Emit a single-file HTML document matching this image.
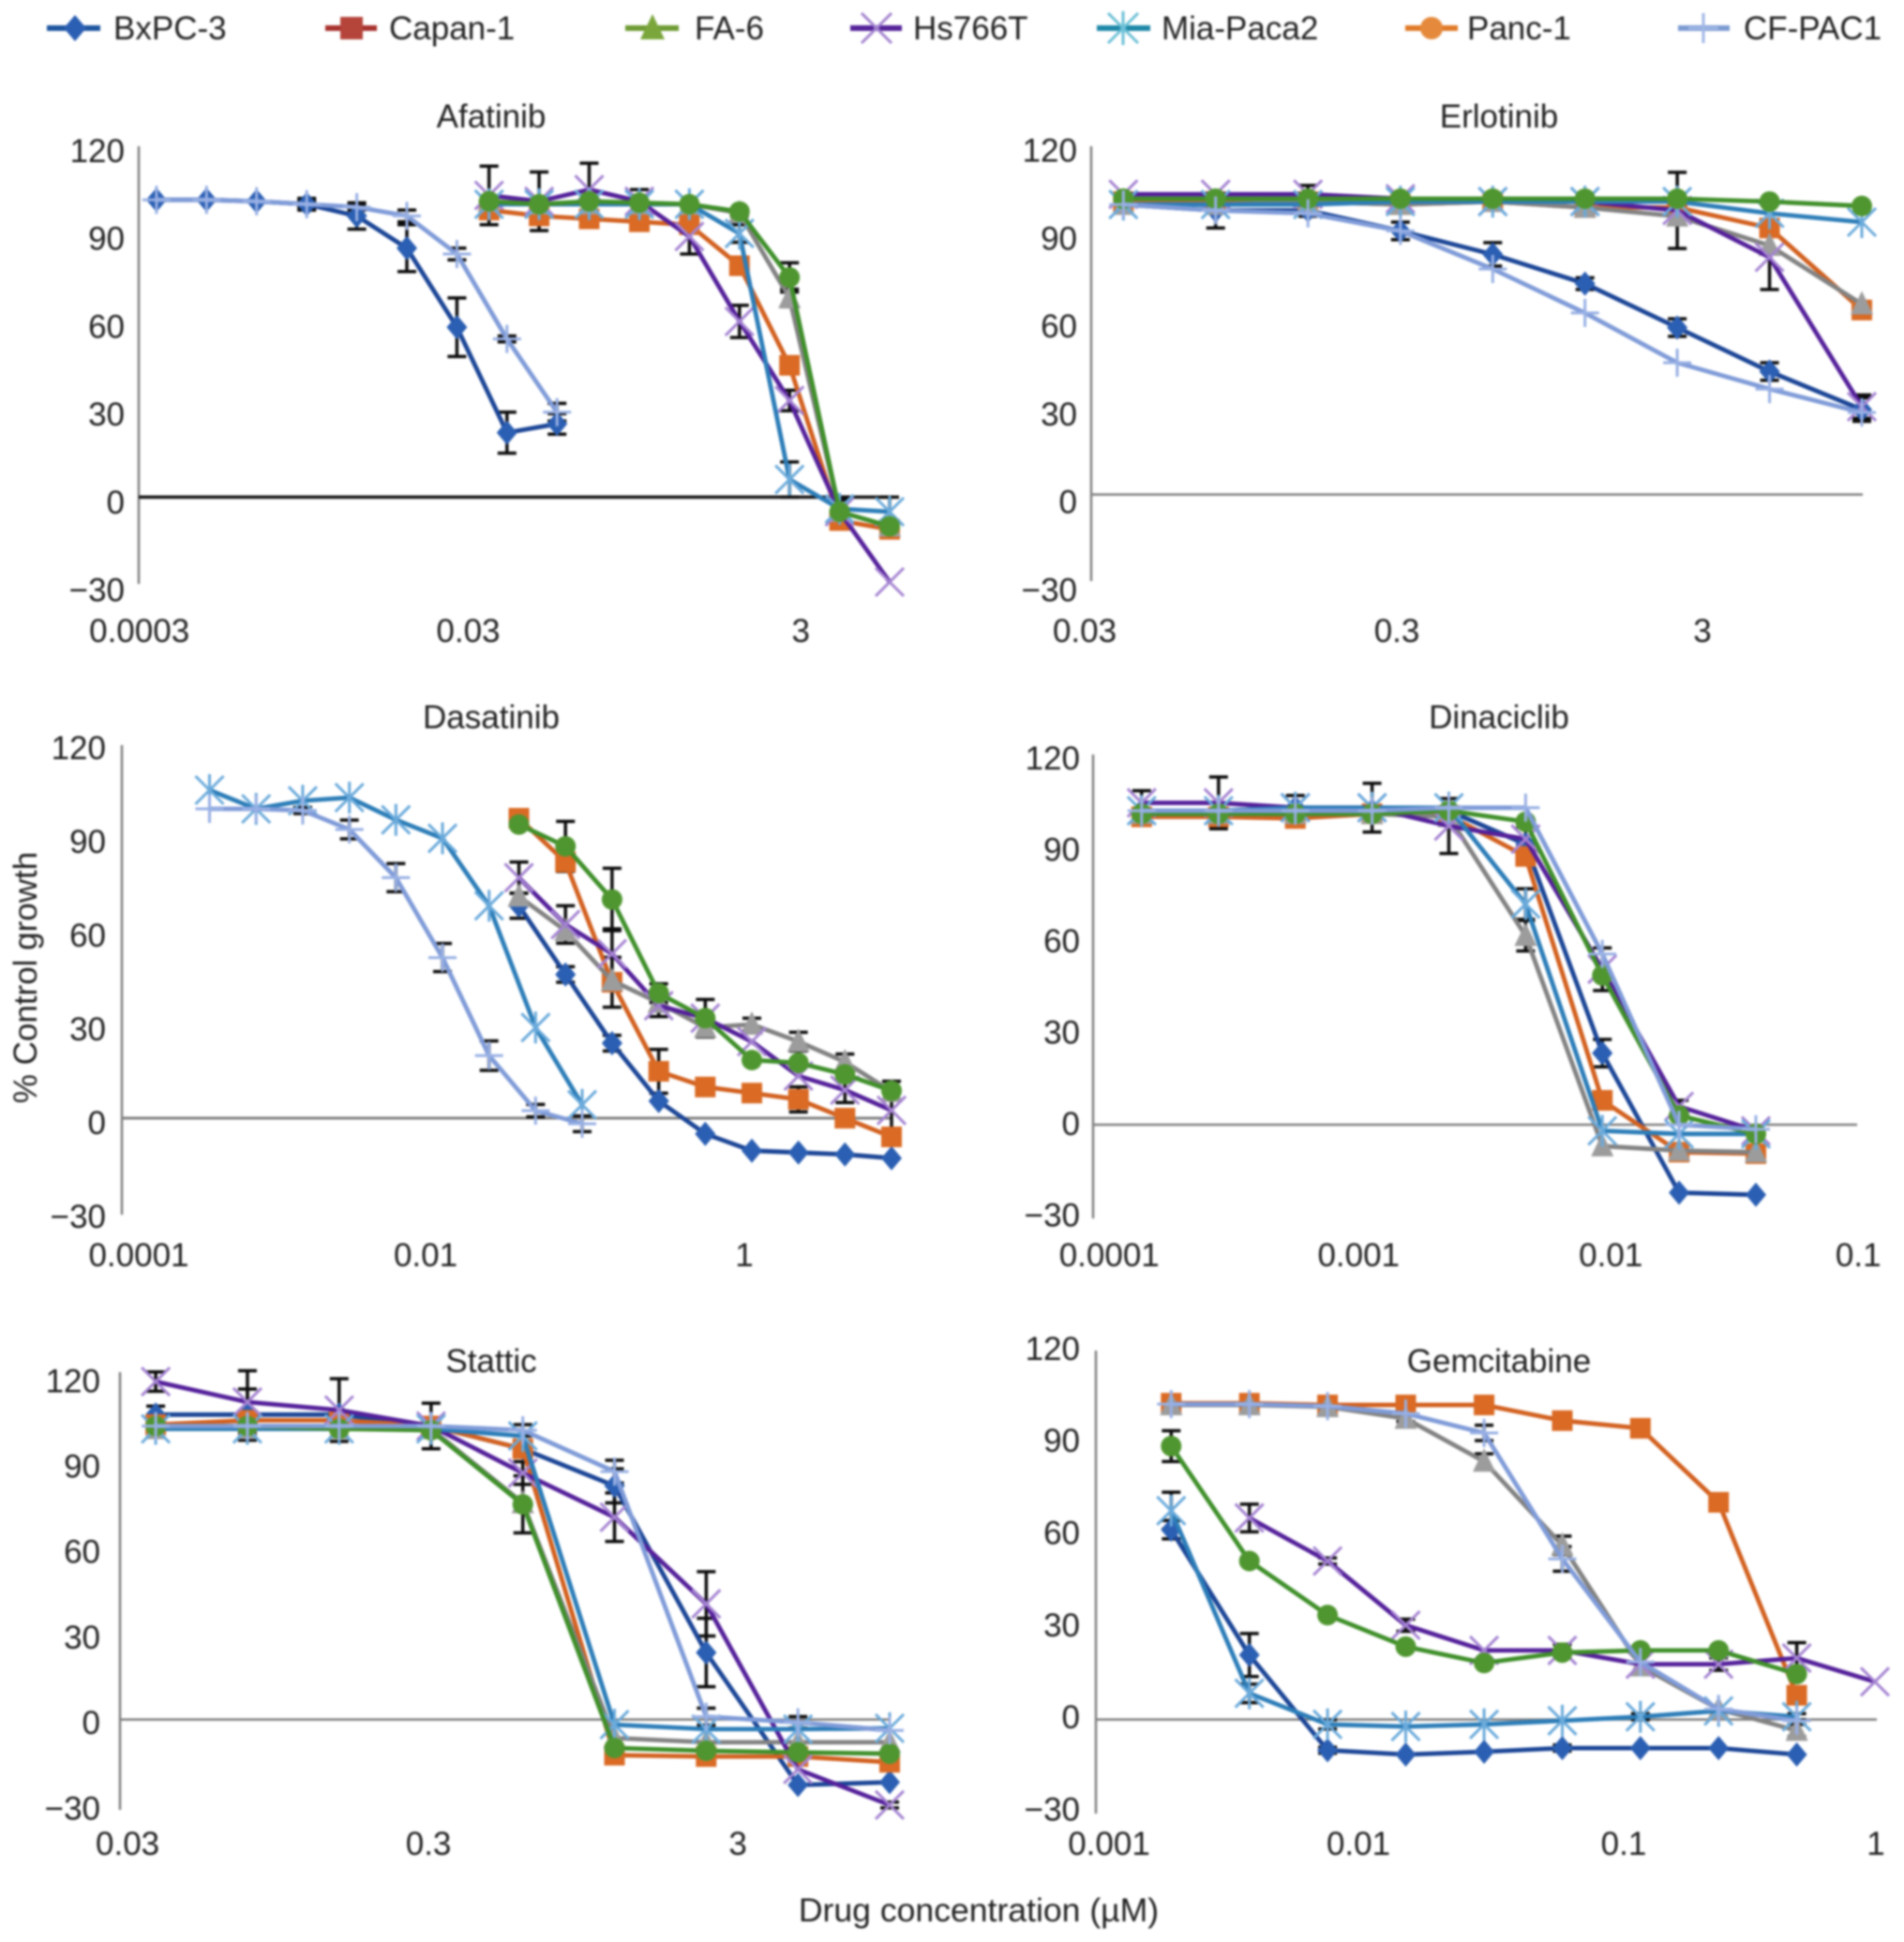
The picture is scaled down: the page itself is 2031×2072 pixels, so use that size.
<!DOCTYPE html>
<html lang="en">
<head>
<meta charset="utf-8">
<title>Drug response curves</title>
<style>
html,body{margin:0;padding:0;background:#fff;}
svg{display:block;filter:blur(0.95px);}
text{font-family:"Liberation Sans",sans-serif;font-size:35px;fill:#222222;}
</style>
</head>
<body>
<svg id="chart" xmlns="http://www.w3.org/2000/svg" width="2031" height="2072" viewBox="0 0 2031 2072">
  <rect x="0" y="0" width="2031" height="2072" fill="#ffffff"/>

  <g>
    <g id="leg0"><line x1="50" y1="30" x2="107" y2="30" stroke="#1f56a0" stroke-width="6"/><text x="121" y="42">BxPC-3</text></g>
    <g id="leg1"><line x1="347" y1="30" x2="402" y2="30" stroke="#a8322e" stroke-width="6"/><text x="415" y="42">Capan-1</text></g>
    <g id="leg2"><line x1="667" y1="30" x2="724" y2="30" stroke="#6f9c35" stroke-width="6"/><text x="741" y="42">FA-6</text></g>
    <g id="leg3"><line x1="907" y1="30" x2="962" y2="30" stroke="#55249a" stroke-width="6"/><text x="974" y="42">Hs766T</text></g>
    <g id="leg4"><line x1="1170" y1="30" x2="1227" y2="30" stroke="#1f88a8" stroke-width="6"/><text x="1239" y="42">Mia-Paca2</text></g>
    <g id="leg5"><line x1="1499" y1="30" x2="1555" y2="30" stroke="#e07a28" stroke-width="6"/><text x="1565" y="42">Panc-1</text></g>
    <g id="leg6"><line x1="1790" y1="30" x2="1845" y2="30" stroke="#7c9bd2" stroke-width="6"/><text x="1860" y="42">CF-PAC1</text></g>
  </g>

  <text x="524" y="136" text-anchor="middle">Afatinib</text>
  <text x="1599" y="136" text-anchor="middle">Erlotinib</text>
  <text x="524" y="777" text-anchor="middle">Dasatinib</text>
  <text x="1599" y="777" text-anchor="middle">Dinaciclib</text>
  <text x="524" y="1464" text-anchor="middle">Stattic</text>
  <text x="1599" y="1464" text-anchor="middle">Gemcitabine</text>

  <text x="0" y="0" text-anchor="middle" transform="translate(39,1043) rotate(-90)">% Control growth</text>
  <text x="1044" y="2050" text-anchor="middle" style="font-size:35.6px">Drug concentration (µM)</text>

  <g id="panels"></g>
</svg>

<script>
/* ---------- shared tick arrays ---------- */
const yTickValues = [120, 90, 60, 30, 0, -30];

/* ---------- concentrations (uM) ---------- */
const concTop10 = [0.039, 0.078, 0.156, 0.3125, 0.625, 1.25, 2.5, 5, 10];
const concTop01 = [0.00039, 0.00078, 0.00156, 0.003125, 0.00625, 0.0125, 0.025, 0.05, 0.1];
const concTop004 = [0.000156, 0.0003125, 0.000625, 0.00125, 0.0025, 0.005, 0.01, 0.02, 0.04];
const concGemLow = [0.00195, 0.0039, 0.0078, 0.0156, 0.03125, 0.0625, 0.125, 0.25, 0.5];
const concGemHigh = [0.0039, 0.0078, 0.0156, 0.03125, 0.0625, 0.125, 0.25, 0.5, 1];

/* ---------- Afatinib ---------- */
const afatinibTicks = [0.0003, 0.03, 3];
const afatinibTickLabels = ["0.0003", "0.03", "3"];
const afatinibBxpc3 = [101.5, 101.5, 101, 100, 96, 85, 58, 22, 25];
const afatinibBxpc3Err = [0, 0, 0, 2, 4.5, 8, 10, 7, 3.5];
const afatinibCapan1 = [98, 96, 95, 94, 93, 79, 45, -8, -11];
const afatinibCapan1Err = [2, 2, 1, 1, 1, 1, 1, 0, 0];
const afatinibFa6 = [101, 100, 100, 100, 100, 97, 68, -5, -10];
const afatinibFa6Err = [0, 0, 0, 0, 0, 1, 3, 0, 0];
const afatinibHs766t = [103, 101, 105, 101, 89, 60, 33, -5, -29];
const afatinibHs766tErr = [10, 10, 9, 4, 6, 5.5, 3.5, 5, 0];
const afatinibMia = [100, 100, 100, 100, 100, 90, 6, -4, -5];
const afatinibMiaErr = [0, 0, 0, 0, 0, 3, 6, 3, 5];
const afatinibPanc1 = [101, 100, 101, 100.5, 100, 97.5, 75, -5, -10];
const afatinibPanc1Err = [0, 0, 0, 0, 0, 1, 5, 0, 0];
const afatinibCf = [101.5, 101.5, 101, 100, 99, 96, 83, 54, 29];
const afatinibCfErr = [0, 0, 0, 1, 1, 2, 2, 1, 3];

/* ---------- Erlotinib ---------- */
const erlotinibTicks = [0.03, 0.3, 3];
const erlotinibTickLabels = ["0.03", "0.3", "3"];
const erlotinibBxpc3 = [99, 97, 97, 90, 82, 72, 57, 42, 29];
const erlotinibBxpc3Err = [0, 6, 2, 3, 4, 2, 3, 3, 4];
const erlotinibCapan1 = [100, 100, 100, 99, 100, 98, 98, 91, 63];
const erlotinibFa6 = [99, 99, 100, 99, 100, 98, 95, 85, 65];
const erlotinibHs766t = [102.5, 102.5, 102.5, 101, 100, 100, 97, 81, 30];
const erlotinibHs766tErr = [0, 0, 3, 0, 0, 0, 13, 11, 4];
const erlotinibMia = [99, 99, 99, 100, 100, 100, 100, 96, 93];
const erlotinibPanc1 = [101, 101, 101, 101, 101, 101, 101, 100, 98.5];
const erlotinibCf = [99, 97, 96, 90, 77, 62, 45, 36, 28];

/* ---------- Dasatinib ---------- */
const dasatinibTicks = [0.0001, 0.01, 1];
const dasatinibTickLabels = ["0.0001", "0.01", "1"];
const dasatinibBxpc3 = [68, 46, 24, 5.5, -5, -10.4, -11, -11.6, -12.8];
const dasatinibBxpc3Err = [4, 2.5, 2.5, 0, 0, 0, 0, 0, 0];
const dasatinibCapan1 = [96, 82, 43.5, 15, 10, 8, 6, 0, -6];
const dasatinibCapan1Err = [0, 0, 8, 7, 0, 0, 4, 0, 0];
const dasatinibFa6 = [71, 60, 44, 37, 29, 30, 24.5, 18, 8.5];
const dasatinibFa6Err = [0, 0, 0, 0, 0, 2, 3, 2.5, 0];
const dasatinibHs766t = [77, 62, 52.6, 36, 32, 24.5, 13.5, 9, 2.5];
const dasatinibHs766tErr = [5, 6, 8, 3.5, 6, 0, 0, 4, 6];
const dasatinibMia = [105, 99, 101.6, 102.6, 95.5, 89.6, 68, 29, 4.3];
const dasatinibPanc1 = [94, 87, 70, 40, 32, 18.6, 17.7, 14, 8.8];
const dasatinibPanc1Err = [0, 8, 10, 3, 0, 0, 0, 0, 3];
const dasatinibCf = [99, 99, 98.5, 92.4, 77, 51.4, 20, 2.4, -1.8];
const dasatinibCfErr = [0, 0, 1, 3, 4.5, 4.5, 4.7, 2, 2.5];

/* ---------- Dinaciclib ---------- */
const dinaciclibTicks = [0.0001, 0.001, 0.01, 0.1];
const dinaciclibTickLabels = ["0.0001", "0.001", "0.01", "0.1"];
const dinaciclibBxpc3 = [103, 103, 104, 103, 103, 92, 23.5, -22.3, -23];
const dinaciclibBxpc3Err = [0, 0, 0, 0, 0, 0, 4.5, 0, 0];
const dinaciclibCapan1 = [101, 101, 100.5, 102, 101.5, 88, 8, -9, -9.5];
const dinaciclibFa6 = [102, 102, 102, 102, 101, 62, -7, -8.5, -9];
const dinaciclibFa6Err = [0, 0, 0, 0, 0, 5, 0, 0, 0];
const dinaciclibHs766t = [105.6, 105.6, 104, 104, 98, 93.7, 51, 6, -2];
const dinaciclibHs766tErr = [4, 8.5, 4, 8, 9, 4, 7, 2, 0];
const dinaciclibMia = [103, 103, 104, 104, 104, 72.4, -2, -3, -3];
const dinaciclibMiaErr = [0, 0, 0, 0, 0, 5, 0, 0, 0];
const dinaciclibPanc1 = [102, 102, 102, 102, 103, 99.4, 49, 3, -3];
const dinaciclibCf = [103, 103, 103, 103, 104, 104, 56, 0, -1.5];

/* ---------- Stattic ---------- */
const statticTicks = [0.03, 0.3, 3];
const statticTickLabels = ["0.03", "0.3", "3"];
const statticBxpc3 = [107, 107, 107, 103, 95, 82, 23.5, -23, -22];
const statticBxpc3Err = [3, 9, 0, 0, 0, 6, 12, 0, 0];
const statticCapan1 = [103.5, 105, 105, 103, 95, -12.5, -13, -13, -15];
const statticFa6 = [102, 102, 102, 102, 76, -6.5, -8, -8, -8];
const statticHs766t = [118.6, 111.4, 108.6, 103, 86.5, 71, 40.6, -17.5, -30];
const statticHs766tErr = [3.4, 11, 11, 8, 4, 8.5, 11.3, 0, 1];
const statticMia = [102, 102, 102, 102, 99.5, -1.8, -3.4, -3.4, -3.1];
const statticPanc1 = [103, 103, 102, 101.5, 75.5, -10, -11, -11.5, -12];
const statticPanc1Err = [0, 0, 0, 0, 10, 0, 0, 0, 0];
const statticCf = [103, 103, 103, 103, 101.5, 87, 1, -1, -3.8];
const statticCfErr = [0, 0, 0, 0, 2, 4, 3, 2, 0];

/* ---------- Gemcitabine ---------- */
const gemcitabineTicks = [0.001, 0.01, 0.1, 1];
const gemcitabineTickLabels = ["0.001", "0.01", "0.1", "1"];
const gemcitabineBxpc3 = [61.8, 21, -10, -11.4, -10.5, -9.3, -9.3, -9.3, -11.4];
const gemcitabineBxpc3Err = [3, 7, 1, 0, 0, 1, 0, 0, 0];
const gemcitabineCapan1 = [103, 103, 102.4, 102.4, 102.4, 97.3, 94.8, 70.7, 7.9];
const gemcitabineFa6 = [102.4, 102.4, 101.8, 98, 84, 56.7, 17.4, 3.4, -3.6];
const gemcitabineFa6Err = [0, 0, 0, 1, 2.5, 3, 0, 0, 2];
const gemcitabineHs766t = [65.6, 51.6, 30.7, 22.5, 22.5, 18, 18, 20, 12.3];
const gemcitabineHs766tErr = [4.5, 1, 2, 0, 2, 0, 2, 5, 0];
const gemcitabineMia = [68, 8.5, -1.6, -2.3, -1.6, -0.4, 0.9, 2.8, 0.9];
const gemcitabineMiaErr = [6, 3, 1.5, 0, 0, 0, 1, 0, 1];
const gemcitabinePanc1 = [89, 51.6, 34, 23.7, 18.4, 21.8, 22.5, 22.5, 14.8];
const gemcitabinePanc1Err = [5, 1, 0, 0, 0, 0, 0, 0, 0];
const gemcitabineCf = [102.7, 102.7, 102, 99.6, 93.3, 52.3, 18.7, 3.4, -0.4];
const gemcitabineCfErr = [0, 0, 0, 0, 2.5, 4, 0, 0, 0];

/* ---------- series styles ---------- */
const styles = {
  bxpc3: {label: "bxpc3", shape: "diamond", line: "#1b4596", mark: "#2b5fb3"},
  capan1: {label: "capan1", shape: "square", line: "#d2601f", mark: "#da6a24"},
  fa6: {label: "fa6", shape: "triangle", line: "#828282", mark: "#9c9c9c"},
  hs766t: {label: "hs766t", shape: "cross", line: "#54209a", mark: "#a584d2"},
  mia: {label: "mia-paca2", shape: "star", line: "#2c7db8", mark: "#6aaadb"},
  panc1: {label: "panc1", shape: "circle", line: "#3f8f2a", mark: "#4f9630"},
  cf: {label: "cf-pac1", shape: "plus", line: "#7f9bd8", mark: "#98b0e4"}
};

const panels = [
  {id: "afatinib", axisX: 148, axisTop: 156, axisBottom: 623, y0: 530.4, unit: 3.125, anchorConc: 10, anchorX: 949, decade: 177.4,
   zeroEnd: 953, zeroColor: "#111111", zeroWidth: 3.5, yLabelRight: 133, yLabelDy: 17.4, xLabelY: 685,
   ticks: afatinibTicks, tickLabels: afatinibTickLabels, tickNudge: [2, -2, -2],
   series: [
    {s: styles.bxpc3, x: concTop01, y: afatinibBxpc3, e: afatinibBxpc3Err},
    {s: styles.capan1, x: concTop10, y: afatinibCapan1, e: afatinibCapan1Err},
    {s: styles.fa6, x: concTop10, y: afatinibFa6, e: afatinibFa6Err},
    {s: styles.hs766t, x: concTop10, y: afatinibHs766t, e: afatinibHs766tErr},
    {s: styles.mia, x: concTop10, y: afatinibMia, e: afatinibMiaErr},
    {s: styles.panc1, x: concTop10, y: afatinibPanc1, e: afatinibPanc1Err},
    {s: styles.cf, x: concTop01, y: afatinibCf, e: afatinibCfErr}
   ]},
  {id: "erlotinib", axisX: 1164, axisTop: 156, axisBottom: 620, y0: 527.6, unit: 3.125, anchorConc: 10, anchorX: 1986, decade: 327,
   zeroEnd: 1987, zeroColor: "#808080", zeroWidth: 2.5, yLabelRight: 1149, yLabelDy: 20, xLabelY: 685,
   ticks: erlotinibTicks, tickLabels: erlotinibTickLabels, tickNudge: [-4, 2, 1],
   series: [
    {s: styles.bxpc3, x: concTop10, y: erlotinibBxpc3, e: erlotinibBxpc3Err},
    {s: styles.capan1, x: concTop10, y: erlotinibCapan1},
    {s: styles.fa6, x: concTop10, y: erlotinibFa6},
    {s: styles.hs766t, x: concTop10, y: erlotinibHs766t, e: erlotinibHs766tErr},
    {s: styles.mia, x: concTop10, y: erlotinibMia},
    {s: styles.panc1, x: concTop10, y: erlotinibPanc1},
    {s: styles.cf, x: concTop10, y: erlotinibCf}
   ]},
  {id: "dasatinib", axisX: 130, axisTop: 795, axisBottom: 1296, y0: 1193, unit: 3.333, anchorConc: 10, anchorX: 951, decade: 165,
   zeroEnd: 951, zeroColor: "#808080", zeroWidth: 3, yLabelRight: 113, yLabelDy: 17, xLabelY: 1351,
   ticks: dasatinibTicks, tickLabels: dasatinibTickLabels, tickNudge: [22, -2, 8],
   series: [
    {s: styles.bxpc3, x: concTop10, y: dasatinibBxpc3, e: dasatinibBxpc3Err},
    {s: styles.capan1, x: concTop10, y: dasatinibCapan1, e: dasatinibCapan1Err},
    {s: styles.fa6, x: concTop10, y: dasatinibFa6, e: dasatinibFa6Err},
    {s: styles.hs766t, x: concTop10, y: dasatinibHs766t, e: dasatinibHs766tErr},
    {s: styles.mia, x: concTop01, y: dasatinibMia},
    {s: styles.panc1, x: concTop10, y: dasatinibPanc1, e: dasatinibPanc1Err},
    {s: styles.cf, x: concTop01, y: dasatinibCf, e: dasatinibCfErr}
   ]},
  {id: "dinaciclib", axisX: 1166, axisTop: 805, axisBottom: 1300, y0: 1200, unit: 3.252, anchorConc: 0.04, anchorX: 1873, decade: 272,
   zeroEnd: 1981, zeroColor: "#808080", zeroWidth: 2.5, yLabelRight: 1152, yLabelDy: 11, xLabelY: 1351,
   ticks: dinaciclibTicks, tickLabels: dinaciclibTickLabels, tickNudge: [18, 12, 9, 1],
   series: [
    {s: styles.bxpc3, x: concTop004, y: dinaciclibBxpc3, e: dinaciclibBxpc3Err},
    {s: styles.capan1, x: concTop004, y: dinaciclibCapan1},
    {s: styles.fa6, x: concTop004, y: dinaciclibFa6, e: dinaciclibFa6Err},
    {s: styles.hs766t, x: concTop004, y: dinaciclibHs766t, e: dinaciclibHs766tErr},
    {s: styles.mia, x: concTop004, y: dinaciclibMia, e: dinaciclibMiaErr},
    {s: styles.panc1, x: concTop004, y: dinaciclibPanc1},
    {s: styles.cf, x: concTop004, y: dinaciclibCf}
   ]},
  {id: "stattic", axisX: 128, axisTop: 1464, axisBottom: 1931, y0: 1834.6, unit: 3.04, anchorConc: 10, anchorX: 949, decade: 325,
   zeroEnd: 949, zeroColor: "#808080", zeroWidth: 2.5, yLabelRight: 107, yLabelDy: 15.5, xLabelY: 1979,
   ticks: statticTicks, tickLabels: statticTickLabels, tickNudge: [7, 3, 8],
   series: [
    {s: styles.bxpc3, x: concTop10, y: statticBxpc3, e: statticBxpc3Err},
    {s: styles.capan1, x: concTop10, y: statticCapan1},
    {s: styles.fa6, x: concTop10, y: statticFa6},
    {s: styles.hs766t, x: concTop10, y: statticHs766t, e: statticHs766tErr},
    {s: styles.mia, x: concTop10, y: statticMia},
    {s: styles.panc1, x: concTop10, y: statticPanc1, e: statticPanc1Err},
    {s: styles.cf, x: concTop10, y: statticCf, e: statticCfErr}
   ]},
  {id: "gemcitabine", axisX: 1169, axisTop: 1441, axisBottom: 1935, y0: 1834.6, unit: 3.277, anchorConc: 1, anchorX: 2000, decade: 277,
   zeroEnd: 2002, zeroColor: "#808080", zeroWidth: 2.5, yLabelRight: 1152, yLabelDy: 9.5, xLabelY: 1979,
   ticks: gemcitabineTicks, tickLabels: gemcitabineTickLabels, tickNudge: [14, 3, 9, 1],
   series: [
    {s: styles.bxpc3, x: concGemLow, y: gemcitabineBxpc3, e: gemcitabineBxpc3Err},
    {s: styles.capan1, x: concGemLow, y: gemcitabineCapan1},
    {s: styles.fa6, x: concGemLow, y: gemcitabineFa6, e: gemcitabineFa6Err},
    {s: styles.hs766t, x: concGemHigh, y: gemcitabineHs766t, e: gemcitabineHs766tErr},
    {s: styles.mia, x: concGemLow, y: gemcitabineMia, e: gemcitabineMiaErr},
    {s: styles.panc1, x: concGemLow, y: gemcitabinePanc1, e: gemcitabinePanc1Err},
    {s: styles.cf, x: concGemLow, y: gemcitabineCf, e: gemcitabineCfErr}
   ]}
];

const NS = "http://www.w3.org/2000/svg";
function make(parent, tag, attrs) {
  const el = document.createElementNS(NS, tag);
  for (const k in attrs) el.setAttribute(k, attrs[k]);
  parent.appendChild(el);
  return el;
}

function markerPath(shape, x, y, r) {
  const b = r + 4;
  switch (shape) {
    case "diamond": return `M${x} ${y - r - 2}L${x + r} ${y}L${x} ${y + r + 2}L${x - r} ${y}Z`;
    case "square": return `M${x - r} ${y - r}H${x + r}V${y + r}H${x - r}Z`;
    case "triangle": return `M${x} ${y - r - 3}L${x + r + 1} ${y + r}H${x - r - 1}Z`;
    case "circle": return `M${x - r} ${y}A${r} ${r} 0 1 0 ${x + r} ${y}A${r} ${r} 0 1 0 ${x - r} ${y}Z`;
    case "cross": return `M${x - b} ${y - b}L${x + b} ${y + b}M${x + b} ${y - b}L${x - b} ${y + b}`;
    case "plus": return `M${x - b} ${y}H${x + b}M${x} ${y - b}V${y + b}`;
    default: return `M${x - b} ${y - b}L${x + b} ${y + b}M${x + b} ${y - b}L${x - b} ${y + b}M${x} ${y - b - 2}V${y + b + 2}`;
  }
}
function isOpen(shape) {
  return shape === "cross" || shape === "plus" || shape === "star";
}
function drawMarker(parent, shape, x, y, color, r) {
  const open = isOpen(shape);
  const m = make(parent, "path", {
    d: markerPath(shape, x, y, r),
    fill: open ? "none" : color,
    stroke: open ? color : "none",
    "stroke-width": open ? 3 : 0
  });
  
  
  return m;
}

/* legend markers */
const legendShapes = ["diamond", "square", "triangle", "cross", "star", "circle", "plus"];
const legendColors = ["#2b5fb3", "#b5443a", "#7aa63c", "#a283cf", "#6cc0d6", "#e58a3c", "#9fb6e6"];
const legendMarkerX = [80, 375, 696, 935, 1198, 1527, 1817];
legendShapes.forEach((shape, i) => {
  const host = document.getElementById("leg" + i);
  const m = drawMarker(host, shape, legendMarkerX[i], 30, legendColors[i], 12);
  
});

/* panels */
const root = document.getElementById("panels");
panels.forEach(p => {
  const xOf = c => p.anchorX + Math.log10(c / p.anchorConc) * p.decade;
  const yOf = v => p.y0 - v * p.unit;

  const g = make(root, "g", {});
  
  

  const yAxis = make(g, "line", {x1: p.axisX, x2: p.axisX, y1: p.axisTop, y2: p.axisBottom, stroke: "#808080", "stroke-width": 2.5});
  
  

  const xAxis = make(g, "line", {x1: p.axisX, x2: p.zeroEnd, y1: yOf(0), y2: yOf(0), stroke: p.zeroColor, "stroke-width": p.zeroWidth});
  
  

  yTickValues.forEach(v => {
    const t = make(g, "text", {x: p.yLabelRight, y: yOf(v) + p.yLabelDy, "text-anchor": "end"});
    
    
    t.textContent = v < 0 ? "\u2212" + Math.abs(v) : String(v);
  });

  p.ticks.forEach((c, i) => {
    const t = make(g, "text", {x: xOf(c) + p.tickNudge[i], y: p.xLabelY, "text-anchor": "middle"});
    
    
    t.textContent = p.tickLabels[i];
  });

  /* error bars under the curves */
  p.series.forEach(sr => {
    if (!sr.e) return;
    sr.y.forEach((v, i) => {
      const err = sr.e[i];
      if (!err) return;
      const x = xOf(sr.x[i]), top = yOf(v + err), bot = yOf(v - err), cap = 10;
      const eb = make(g, "path", {
        d: `M${x} ${top}V${bot}M${x - cap} ${top}H${x + cap}M${x - cap} ${bot}H${x + cap}`,
        fill: "none", stroke: "#0c0c0c", "stroke-width": 3.5
      });
      
      
    });
  });

  p.series.forEach(sr => {
    const pts = sr.y.map((v, i) => xOf(sr.x[i]).toFixed(1) + "," + yOf(v).toFixed(1)).join(" ");
    const line = make(g, "polyline", {points: pts, fill: "none", stroke: sr.s.line, "stroke-width": 4.8, "stroke-linejoin": "round"});
    
    
    sr.y.forEach((v, i) => {
      const m = drawMarker(g, sr.s.shape, +xOf(sr.x[i]).toFixed(1), +yOf(v).toFixed(1), sr.s.mark, 11);
      
    });
  });
});
</script>
</body>
</html>
